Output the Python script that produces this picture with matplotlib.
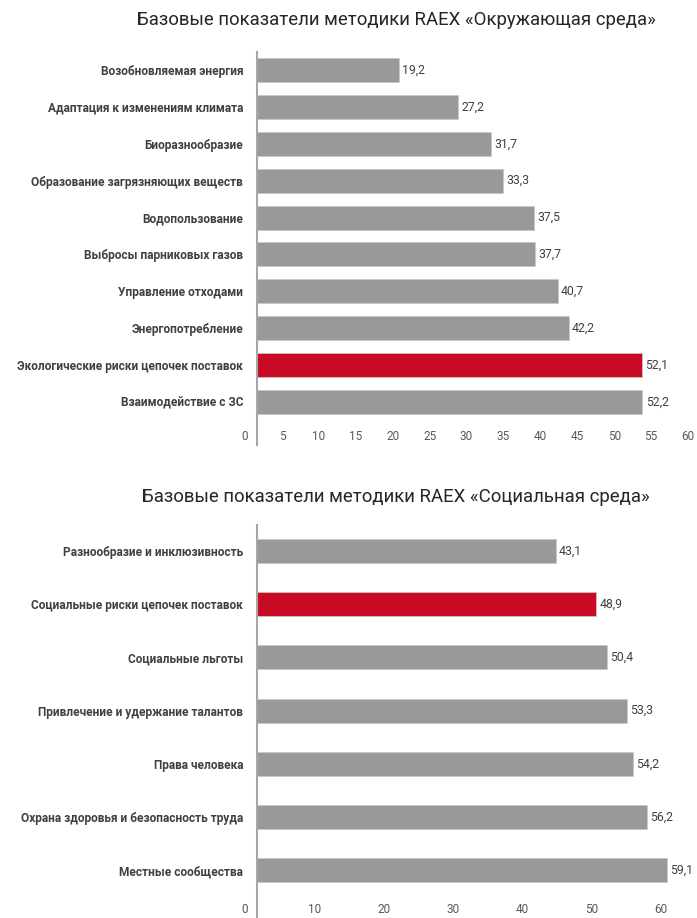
import matplotlib
matplotlib.use("Agg")
import matplotlib.pyplot as plt
from matplotlib.transforms import ScaledTranslation

plt.rcParams['font.family'] = ['Roboto', 'DejaVu Sans']

# Data
env_title = "Базовые показатели методики RAEX «Окружающая среда»"
env_categories = ["Возобновляемая энергия", "Адаптация к изменениям климата", "Биоразнообразие",
                  "Образование загрязняющих веществ", "Водопользование", "Выбросы парниковых газов",
                  "Управление отходами", "Энергопотребление", "Экологические риски цепочек поставок",
                  "Взаимодействие с ЗС"]
env_values = [19.2, 27.2, 31.7, 33.3, 37.5, 37.7, 40.7, 42.2, 52.1, 52.2]
env_highlight = "Экологические риски цепочек поставок"
env_ticks = list(range(0, 61, 5))

soc_title = "Базовые показатели методики RAEX «Социальная среда»"
soc_categories = ["Разнообразие и инклюзивность", "Социальные риски цепочек поставок",
                  "Социальные льготы", "Привлечение и удержание талантов", "Права человека",
                  "Охрана здоровья и безопасность труда", "Местные сообщества"]
soc_values = [43.1, 48.9, 50.4, 53.3, 54.2, 56.2, 59.1]
soc_highlight = "Социальные риски цепочек поставок"
soc_ticks = list(range(0, 61, 10))

GRAY = "#999999"
RED = "#c90a24"
TXT = "#404040"

W, H = 697, 918
fig = plt.figure(figsize=(W / 100, H / 100), dpi=100)


def draw(ax, cats, vals, highlight, ticks, xmax, ylim, height):
    ypos = list(range(len(cats)))
    colors = [RED if c == highlight else GRAY for c in cats]
    ax.barh(ypos, vals, height=height, color=colors, edgecolor="#c8c8c8", linewidth=0.5)
    for y, v in zip(ypos, vals):
        ax.text(v + 0.45, y, f"{v:.1f}".replace(".", ","), va="center", ha="left",
                fontsize=8.8, color=TXT)
    ax.set_yticks(ypos)
    ax.set_yticklabels(cats, fontsize=8.6, fontweight="bold", color=TXT)
    ax.set_ylim(*ylim)
    ax.set_xlim(0, xmax)
    ax.set_xticks(ticks)
    ax.set_xticklabels([str(t) for t in ticks], fontsize=8.5, color="#595959")
    ax.tick_params(axis="y", length=0, pad=10)
    ax.tick_params(axis="x", length=0, pad=-10.5)
    for s in ["top", "right", "bottom"]:
        ax.spines[s].set_visible(False)
    ax.spines["left"].set_color("#a6a6a6")
    ax.spines["left"].set_linewidth(1.5)
    off = ScaledTranslation(-12 / 100, 0, fig.dpi_scale_trans)
    for lab in ax.get_xticklabels():
        lab.set_transform(lab.get_transform() + off)
    ax.patch.set_alpha(0)


ax1 = fig.add_axes([257 / W, 1 - 445 / H, 443 / W, 393 / H])
draw(ax1, env_categories, env_values, env_highlight, env_ticks, 60, (10.17, -0.49), 0.65)

ax2 = fig.add_axes([257 / W, 0.0, 437 / W, 393 / H])
draw(ax2, soc_categories, soc_values, soc_highlight, soc_ticks, 63, (6.9, -0.49), 0.45)

fig.text(396 / W, 1 - 20 / H, env_title, ha="center", va="center", fontsize=13.4, color="#262626")
fig.text(396 / W, 1 - 497 / H, soc_title, ha="center", va="center", fontsize=13.4, color="#262626")

fig.savefig("out.png", dpi=100)
